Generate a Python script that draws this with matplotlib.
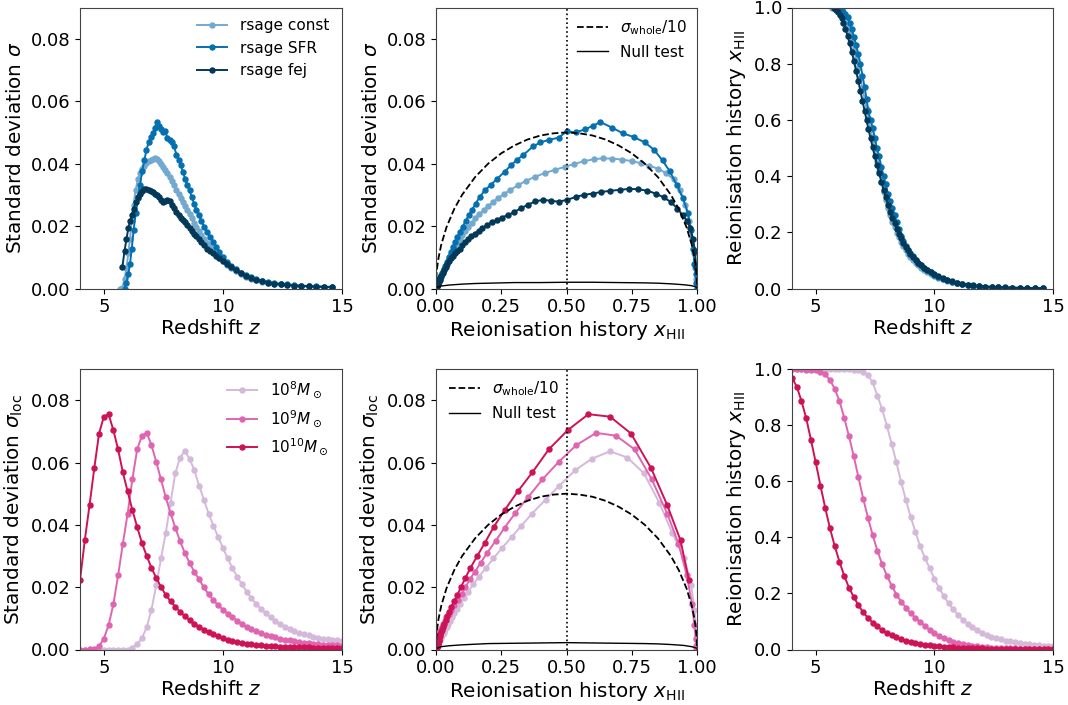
import numpy as np
import matplotlib
matplotlib.use("Agg")
import matplotlib.pyplot as plt

nan = np.nan

# ---------------- top row: rsage models ----------------
z_top = [5.70, 5.78, 5.87, 5.95, 6.03, 6.10, 6.17, 6.25, 6.34, 6.43, 6.52, 6.61,
         6.70, 6.79, 6.88, 6.97, 7.06, 7.14, 7.22, 7.31, 7.40, 7.49,
         7.58, 7.67, 7.77, 7.86, 7.95, 8.05, 8.14, 8.23, 8.32, 8.41,
         8.50, 8.60, 8.69, 8.79, 8.89, 8.99, 9.10, 9.21, 9.33, 9.45,
         9.57, 9.71, 9.85, 10.00,
         10.17, 10.35, 10.54, 10.74, 10.95, 11.17, 11.40, 11.64, 11.89, 12.15,
         12.42, 12.70, 12.99, 13.29, 13.60, 13.92, 14.25, 14.58]

sig_const = [0.0000, 0.0003,
             0.0030, 0.0065, 0.0115, 0.0160, 0.0215, 0.0268, 0.0316, 0.0350, 0.0370, 0.0384,
             0.0393, 0.0401, 0.0408, 0.0413, 0.0416, 0.0417, 0.0414, 0.0408, 0.0399, 0.0390,
             0.0380, 0.0370, 0.0358, 0.0345, 0.0331, 0.0316, 0.0302, 0.0290, 0.0277, 0.0263,
             0.0250, 0.0238, 0.0225, 0.0211, 0.0198, 0.0185, 0.0171, 0.0157, 0.0145, 0.0133,
             0.0121, 0.0109, 0.0098, 0.0088,
             0.0076, 0.0065, 0.0055, 0.0046, 0.0038, 0.0032, 0.0027, 0.0022, 0.0018, 0.0015,
             0.0013, 0.0011, 0.0009, 0.0008, 0.0007, 0.0006, 0.0005, 0.0004]
x_const = [1.000, 0.999,
           0.997, 0.994, 0.988, 0.980, 0.970, 0.955, 0.935, 0.910, 0.880, 0.850,
           0.818, 0.785, 0.750, 0.712, 0.675, 0.640, 0.605, 0.568, 0.530, 0.495,
           0.455, 0.418, 0.380, 0.345, 0.315, 0.285, 0.260, 0.238, 0.218, 0.199,
           0.182, 0.165, 0.150, 0.137, 0.124, 0.112, 0.101, 0.091, 0.082, 0.073,
           0.066, 0.058, 0.051, 0.045,
           0.039, 0.033, 0.028, 0.023, 0.019, 0.0155, 0.0125, 0.010, 0.008, 0.0065,
           0.0052, 0.0042, 0.0034, 0.0027, 0.0022, 0.0017, 0.0014, 0.0011]

sig_sfr = [nan, nan,
           0.0000, 0.0018, 0.0045, 0.0080, 0.0125, 0.0187, 0.0241, 0.0289, 0.0332, 0.0375,
           0.0410, 0.0444, 0.0468, 0.0485, 0.0497, 0.0515, 0.0533, 0.0521, 0.0510, 0.0500,
           0.0503, 0.0483, 0.0476, 0.0468, 0.0455, 0.0428, 0.0412, 0.0395, 0.0374, 0.0352,
           0.0332, 0.0314, 0.0294, 0.0272, 0.0252, 0.0235, 0.0217, 0.0198, 0.0182, 0.0166,
           0.0150, 0.0134, 0.0118, 0.0100,
           0.0085, 0.0072, 0.0061, 0.0051, 0.0043, 0.0036, 0.0030, 0.0025, 0.0021, 0.0018,
           0.0015, 0.0013, 0.0011, 0.0009, 0.0008, 0.0007, 0.0006, 0.0005]
x_sfr = [nan, nan,
         1.000, 0.998, 0.995, 0.990, 0.985, 0.977, 0.966, 0.946, 0.922, 0.896,
         0.868, 0.836, 0.800, 0.758, 0.716, 0.675, 0.630, 0.600, 0.572, 0.535,
         0.500, 0.470, 0.432, 0.400, 0.372, 0.335, 0.310, 0.288, 0.263, 0.235,
         0.210, 0.187, 0.168, 0.152, 0.138, 0.126, 0.114, 0.102, 0.092, 0.082,
         0.074, 0.065, 0.057, 0.048,
         0.041, 0.035, 0.029, 0.024, 0.020, 0.016, 0.013, 0.0105, 0.0085, 0.0068,
         0.0055, 0.0044, 0.0035, 0.0028, 0.0022, 0.0018, 0.0014, 0.0011]

sig_fej = [nan, 0.0070,
           0.0120, 0.0158, 0.0193, 0.0216, 0.0234, 0.0256, 0.0277, 0.0292, 0.0304, 0.0313,
           0.0318, 0.0319, 0.0316, 0.0313, 0.0309, 0.0304, 0.0300, 0.0293, 0.0284, 0.0278,
           0.0281, 0.0284, 0.0279, 0.0268, 0.0257, 0.0244, 0.0235, 0.0227, 0.0219, 0.0212,
           0.0203, 0.0194, 0.0185, 0.0176, 0.0167, 0.0157, 0.0148, 0.0138, 0.0128, 0.0120,
           0.0113, 0.0105, 0.0097, 0.0089,
           0.0079, 0.0068, 0.0058, 0.0049, 0.0041, 0.0034, 0.0028, 0.0023, 0.0019, 0.0016,
           0.0013, 0.0011, 0.0009, 0.0008, 0.0007, 0.0006, 0.0005, 0.0004]
x_fej = [nan, 0.997,
         0.992, 0.985, 0.975, 0.962, 0.946, 0.925, 0.900, 0.872, 0.842, 0.810,
         0.775, 0.740, 0.704, 0.668, 0.632, 0.600, 0.567, 0.535, 0.502, 0.470,
         0.440, 0.410, 0.380, 0.352, 0.325, 0.298, 0.274, 0.252, 0.232, 0.213,
         0.195, 0.178, 0.163, 0.149, 0.136, 0.124, 0.112, 0.101, 0.091, 0.082,
         0.074, 0.066, 0.058, 0.051,
         0.044, 0.038, 0.032, 0.026, 0.021, 0.017, 0.014, 0.011, 0.0088, 0.007,
         0.0056, 0.0045, 0.0036, 0.0029, 0.0023, 0.0018, 0.0014, 0.0011]

top_labels = ["rsage const", "rsage SFR", "rsage fej"]
top_colors = ["#74a9cf", "#0570b0", "#023858"]

# ---------------- bottom row: halo mass models ----------------
z_bot = [4.0, 4.2, 4.4, 4.6, 4.8, 5.0, 5.2, 5.4, 5.6, 5.8,
         6.0, 6.2, 6.4, 6.6, 6.8, 7.0, 7.2, 7.4, 7.6, 7.8,
         8.0, 8.2, 8.4, 8.6, 8.8, 9.0, 9.2, 9.4, 9.6, 9.8,
         10.0, 10.2, 10.4, 10.6, 10.8, 11.0, 11.2, 11.4, 11.6, 11.8,
         12.0, 12.2, 12.4, 12.6, 12.8, 13.0, 13.2, 13.4, 13.6, 13.8,
         14.0, 14.2, 14.4, 14.6, 14.8, 15.0]

sig_m8 = [0.0, 0.0, 0.0, 0.0, 0.0, 0.0, 0.0, 0.0, 0.0, 0.0,
          0.0000, 0.0006, 0.0017, 0.0037, 0.0071, 0.0128, 0.0206, 0.0292, 0.0374, 0.0470,
          0.0565, 0.0616, 0.0636, 0.0612, 0.0575, 0.0526, 0.0481, 0.0436, 0.0397, 0.0361,
          0.0326, 0.0292, 0.0261, 0.0233, 0.0209, 0.0185, 0.0164, 0.0146, 0.0130, 0.0116,
          0.0103, 0.0092, 0.0082, 0.0073, 0.0066, 0.0060, 0.0054, 0.0049, 0.0045, 0.0041,
          0.0038, 0.0035, 0.0033, 0.0031, 0.0029, 0.0027]
x_m8 = [0.999, 0.999, 0.999, 0.999, 0.999, 0.999, 0.999, 0.999, 0.999, 0.999,
        0.999, 0.999, 0.999, 0.998, 0.996, 0.990, 0.978, 0.952, 0.905, 0.856,
        0.797, 0.733, 0.667, 0.597, 0.533, 0.473, 0.420, 0.368, 0.327, 0.290,
        0.253, 0.220, 0.190, 0.164, 0.143, 0.123, 0.106, 0.092, 0.080, 0.069,
        0.060, 0.053, 0.046, 0.041, 0.036, 0.032, 0.029, 0.026, 0.023, 0.021,
        0.019, 0.017, 0.016, 0.014, 0.013, 0.012]

sig_m9 = [0.0000, 0.0000, 0.0001, 0.0003, 0.0010, 0.0035, 0.0078, 0.0145, 0.0238, 0.0340,
          0.0436, 0.0547, 0.0642, 0.0686, 0.0695, 0.0656, 0.0602, 0.0546, 0.0488, 0.0438,
          0.0391, 0.0348, 0.0310, 0.0278, 0.0249, 0.0225, 0.0199, 0.0177, 0.0158, 0.0142,
          0.0128, 0.0115, 0.0103, 0.0092, 0.0082, 0.0073, 0.0066, 0.0059, 0.0053, 0.0048,
          0.0043, 0.0039, 0.0035, 0.0032, 0.0029, 0.0026, 0.0024, 0.0022, 0.0020, 0.0018,
          0.0017, 0.0016, 0.0015, 0.0014, 0.0013, 0.0012]
x_m9 = [0.999, 0.999, 0.999, 0.998, 0.997, 0.995, 0.990, 0.981, 0.961, 0.929,
        0.886, 0.826, 0.761, 0.690, 0.614, 0.538, 0.470, 0.408, 0.352, 0.304,
        0.263, 0.228, 0.196, 0.171, 0.149, 0.129, 0.113, 0.099, 0.084, 0.070,
        0.058, 0.048, 0.040, 0.033, 0.027, 0.022, 0.019, 0.016, 0.013, 0.011,
        0.0095, 0.0082, 0.0071, 0.0062, 0.0054, 0.0047, 0.0042, 0.0037, 0.0033, 0.0030,
        0.0027, 0.0025, 0.0023, 0.0021, 0.0019, 0.0018]

sig_m10 = [0.0222, 0.0350, 0.0463, 0.0582, 0.0693, 0.0747, 0.0755, 0.0704, 0.0642, 0.0568,
           0.0507, 0.0447, 0.0393, 0.0342, 0.0300, 0.0262, 0.0230, 0.0201, 0.0175, 0.0155,
           0.0137, 0.0121, 0.0107, 0.0094, 0.0083, 0.0073, 0.0064, 0.0056, 0.0049, 0.0042,
           0.0036, 0.0031, 0.0027, 0.0024, 0.0021, 0.0019, 0.0017, 0.0015, 0.0013, 0.0012,
           0.0011, 0.0010, 0.0009, 0.0009, 0.0008, 0.0008, 0.0007, 0.0007, 0.0007, 0.0006,
           0.0006, 0.0006, 0.0005, 0.0005, 0.0005, 0.0005]
x_m10 = [0.969, 0.937, 0.886, 0.824, 0.747, 0.667, 0.584, 0.505, 0.432, 0.369,
         0.313, 0.263, 0.221, 0.187, 0.158, 0.132, 0.113, 0.096, 0.082, 0.069,
         0.059, 0.050, 0.043, 0.037, 0.032, 0.027, 0.023, 0.020, 0.017, 0.0148,
         0.0128, 0.0111, 0.0097, 0.0085, 0.0075, 0.0066, 0.0058, 0.0051, 0.0045, 0.0040,
         0.0036, 0.0032, 0.0029, 0.0026, 0.0023, 0.0021, 0.0019, 0.0017, 0.0016, 0.0015,
         0.0014, 0.0013, 0.0012, 0.0011, 0.0010, 0.0010]

bot_labels = [r"$10^{8}M_\odot$", r"$10^{9}M_\odot$", r"$10^{10}M_\odot$"]
bot_colors = ["#d4b9da", "#df65b0", "#ce1256"]

# ---------------- reference curves ----------------
x_whole = [0.0, 0.001, 0.003, 0.005, 0.01, 0.02, 0.04, 0.07, 0.10, 0.15, 0.20, 0.25, 0.30,
           0.35, 0.40, 0.45, 0.50, 0.55, 0.60, 0.65, 0.70, 0.75, 0.80, 0.85, 0.90,
           0.93, 0.96, 0.98, 0.99, 0.995, 0.997, 0.999, 1.0]
sig_whole10 = [0.0, 0.00316, 0.00547, 0.00705, 0.00995, 0.0140, 0.0196, 0.0255, 0.0300,
               0.0357, 0.0400, 0.0433, 0.0458, 0.0477, 0.0490, 0.0497, 0.0500, 0.0497,
               0.0490, 0.0477, 0.0458, 0.0433, 0.0400, 0.0357, 0.0300, 0.0255, 0.0196,
               0.0140, 0.00995, 0.00705, 0.00547, 0.00316, 0.0]

x_null = [0.0, 0.02, 0.05, 0.10, 0.15, 0.20, 0.30, 0.40, 0.50, 0.60, 0.70, 0.80, 0.85,
          0.90, 0.95, 0.98, 1.0]
sig_null_top = [0.0003, 0.0008, 0.0011, 0.0014, 0.0016, 0.0017, 0.0019, 0.0019, 0.0020,
                0.0020, 0.0019, 0.0018, 0.0017, 0.0015, 0.0012, 0.0009, 0.0004]
sig_null_bot = [0.0003, 0.0009, 0.0012, 0.0015, 0.0017, 0.0019, 0.0020, 0.0021, 0.0022,
                0.0021, 0.0020, 0.0019, 0.0018, 0.0016, 0.0013, 0.0009, 0.0004]

# ---------------- figure ----------------
plt.rcParams["font.family"] = ["DejaVu Sans"]
TICK = 13
LAB = 14.4
LEG = 11
MS = 3.6
LW = 1.4

fig = plt.figure(figsize=(10.68, 7.05), dpi=100)
W, H = 1068.0, 705.0

def mkax(l, r, t, b):
    return fig.add_axes([l / W, 1 - b / H, (r - l) / W, (b - t) / H])

ax_tl = mkax(80, 342, 7.5, 288.5)
ax_tm = mkax(436, 697, 7.5, 288.5)
ax_tr = mkax(792, 1053, 7.5, 288.5)
ax_bl = mkax(80, 342, 369, 649.5)
ax_bm = mkax(436, 697, 369, 649.5)
ax_br = mkax(792, 1053, 369, 649.5)

top_sig = [sig_const, sig_sfr, sig_fej]
top_x = [x_const, x_sfr, x_fej]
bot_sig = [sig_m8, sig_m9, sig_m10]
bot_x = [x_m8, x_m9, x_m10]

kw = dict(marker="o", markersize=MS, linewidth=LW)

for s, xh, c, lab in zip(top_sig, top_x, top_colors, top_labels):
    ax_tl.plot(z_top, s, color=c, label=lab, **kw)
    ax_tm.plot(xh, s, color=c, **kw)
    ax_tr.plot(z_top, xh, color=c, **kw)

for s, xh, c, lab in zip(bot_sig, bot_x, bot_colors, bot_labels):
    ax_bl.plot(z_bot, s, color=c, label=lab, **kw)
    ax_bm.plot(xh, s, color=c, **kw)
    ax_br.plot(z_bot, xh, color=c, **kw)

for ax, nul in ((ax_tm, sig_null_top), (ax_bm, sig_null_bot)):
    ax.plot(x_whole, sig_whole10, color="black", ls="--", lw=1.3,
            label=r"$\sigma_{\rm whole}/10$")
    ax.plot(x_null, nul, color="black", ls="-", lw=1.0, label="Null test")
    ax.axvline(0.5, color="black", ls=":", lw=1.2)

for ax in (ax_tl, ax_bl, ax_tr, ax_br):
    ax.set_xlim(4, 15)
    ax.set_xticks([5, 10, 15])
    ax.set_xlabel(r"Redshift $z$", fontsize=LAB, labelpad=2)
for ax in (ax_tl, ax_tm, ax_bl, ax_bm):
    ax.set_ylim(0, 0.09)
    ax.set_yticks([0.0, 0.02, 0.04, 0.06, 0.08])
    ax.set_yticklabels(["0.00", "0.02", "0.04", "0.06", "0.08"])
for ax in (ax_tm, ax_bm):
    ax.set_xlim(0, 1)
    ax.set_xticks([0, 0.25, 0.5, 0.75, 1.0])
    ax.set_xticklabels(["0.00", "0.25", "0.50", "0.75", "1.00"])
    ax.set_xlabel(r"Reionisation history $x_{\rm HII}$", fontsize=LAB, labelpad=2)
for ax in (ax_tr, ax_br):
    ax.set_ylim(0, 1)
    ax.set_yticks([0, 0.2, 0.4, 0.6, 0.8, 1.0])
    ax.set_ylabel(r"Reionisation history $x_{\rm HII}$", fontsize=LAB, labelpad=4)

ax_tl.set_ylabel(r"Standard deviation $\sigma$", fontsize=LAB, labelpad=4)
ax_tm.set_ylabel(r"Standard deviation $\sigma$", fontsize=LAB, labelpad=4)
ax_bl.set_ylabel(r"Standard deviation $\sigma_{\rm loc}$", fontsize=LAB, labelpad=4)
ax_bm.set_ylabel(r"Standard deviation $\sigma_{\rm loc}$", fontsize=LAB, labelpad=4)

for ax in (ax_tl, ax_tm, ax_tr, ax_bl, ax_bm, ax_br):
    ax.tick_params(labelsize=TICK)
    for sp in ax.spines.values():
        sp.set_color("#444444")

leg_kw = dict(frameon=False, fontsize=LEG, borderaxespad=0.3)
ax_tl.legend(loc="upper left", bbox_to_anchor=(0.405, 1.0), **leg_kw)
ax_bl.legend(loc="upper left", bbox_to_anchor=(0.52, 1.0), **leg_kw)
ax_tm.legend(loc="upper left", bbox_to_anchor=(0.50, 1.0), **leg_kw)
ax_bm.legend(loc="upper left", bbox_to_anchor=(0.01, 1.0), **leg_kw)

fig.savefig("out.png", dpi=100)
